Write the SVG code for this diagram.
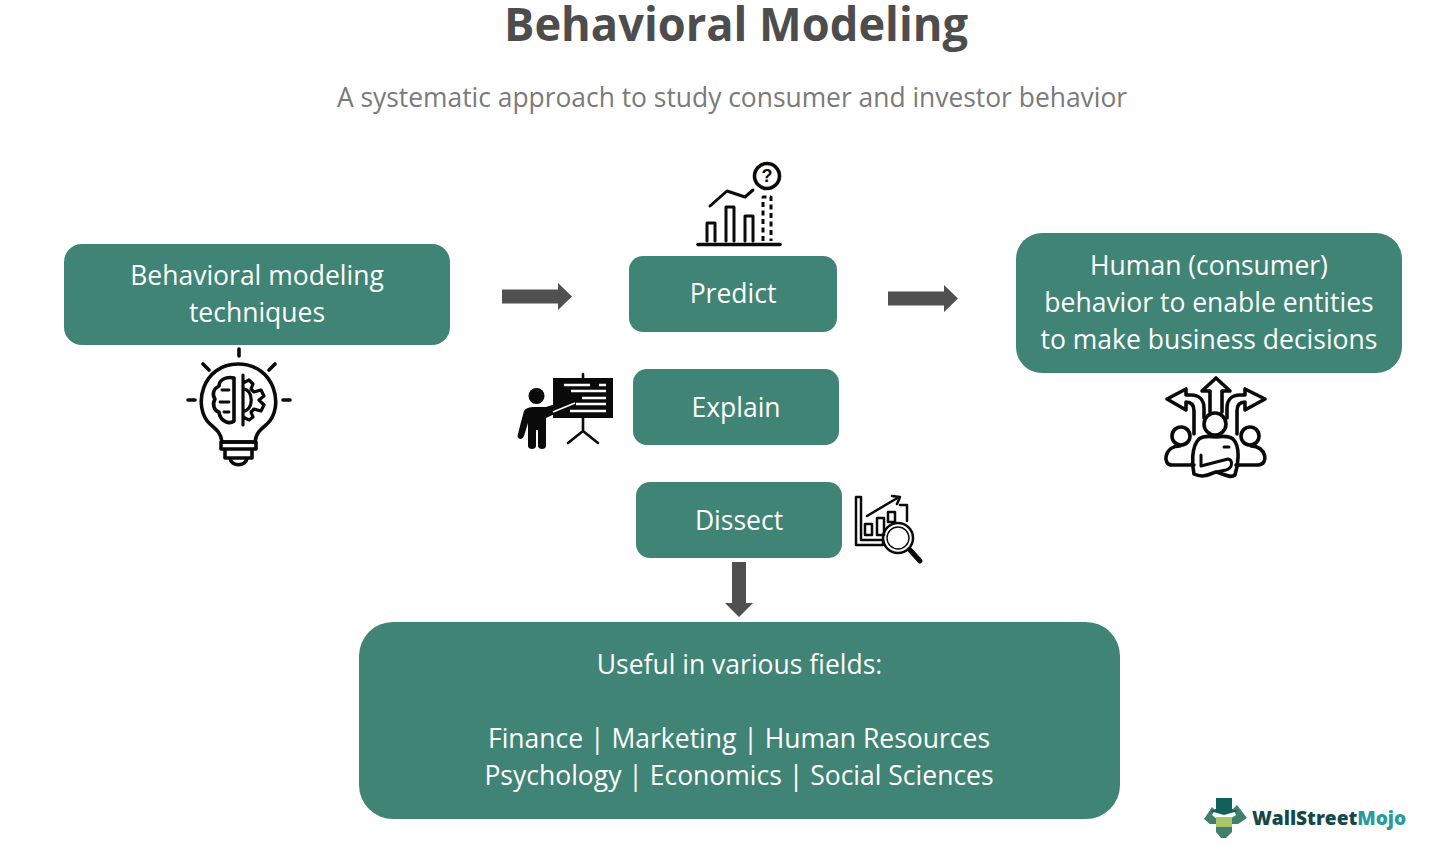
<svg xmlns="http://www.w3.org/2000/svg" width="1440" height="850" viewBox="0 0 1440 850">
<style>
.box{fill:#3f8474}
.t{font-family:"Open Sans","Noto Sans",sans-serif;font-size:26.5px;fill:#fff;text-anchor:middle}
.ic{fill:none;stroke:#0a0a0a;stroke-width:3.6;stroke-linecap:round;stroke-linejoin:round}
.ict{stroke-width:2.8}
.k{fill:#0a0a0a}
.a{fill:#505050}
</style>
<rect width="1440" height="850" fill="#fff"/>
<text x="736" y="41" font-family="'Open Sans','Noto Sans',sans-serif" font-size="46" font-weight="700" fill="#4d4d4d" text-anchor="middle" textLength="464" lengthAdjust="spacingAndGlyphs">Behavioral Modeling</text>
<text x="732" y="107" font-family="'Open Sans','Noto Sans',sans-serif" font-size="26.4" fill="#7a7a7a" text-anchor="middle">A systematic approach to study consumer and investor behavior</text>
<g id="connectors">
<path class="a" d="M502 289.500H558V283L572 296.500L558 310V303.500H502Z"/>
<path class="a" d="M888 291.500H944V285L958 298.500L944 312V305.500H888Z"/>
<path class="a" d="M732 562H746V603H753L739 617L725 603H732Z"/>
</g>
<g id="node-techniques"><rect class="box" x="64" y="244" width="386" height="101" rx="18"/>
<text class="t" x="257" y="285">Behavioral modeling</text><text class="t" x="257" y="322">techniques</text></g>
<g id="node-predict"><rect class="box" x="629" y="256" width="208" height="76" rx="14"/><text class="t" x="733" y="303">Predict</text></g>
<g id="node-explain"><rect class="box" x="633" y="369" width="206" height="76" rx="14"/><text class="t" x="736" y="417">Explain</text></g>
<g id="node-dissect"><rect class="box" x="636" y="482" width="206" height="76" rx="14"/><text class="t" x="739" y="530">Dissect</text></g>
<g id="node-human"><rect class="box" x="1016" y="233" width="386" height="140" rx="26"/>
<text class="t" x="1209" y="275">Human (consumer)</text><text class="t" x="1209" y="312">behavior to enable entities</text><text class="t" x="1209" y="349">to make business decisions</text></g>
<g id="node-fields"><rect class="box" x="359" y="622" width="761" height="197" rx="34"/>
<text class="t" x="739.500" y="674">Useful in various fields:</text>
<text class="t" x="739" y="748">Finance | Marketing | Human Resources</text>
<text class="t" x="739" y="785">Psychology | Economics | Social Sciences</text></g>
<g id="icon-bulb" class="ic">
<path d="M239 349V356M203 364L209 370M275 364L269 370M188 400H195M283 400H290"/>
<path d="M222 442C221 433 217 430 210 424C192 407 202 364 238 364C275 364 285 407 267 424C260 430 256 433 255 442Z"/>
<path d="M221 442H256V449H221ZM225 449H252V458H225ZM230 458C231 467 246 467 247 458"/>
<path d="M234 378C226 376 219 380 219 386C213 389 212 395 215 399C212 404 214 411 219 412C220 421 229 425 234 421Z"/>
<path class="ict" d="M222 390H229M220 402H229M224 412H229"/>
<path d="M243 375V425M243 383L249 380L253 384L251 389L254 392L261 390L264 396L259 400L264 405L261 411L254 409L251 412L253 417L249 420L243 417M243 389C254 389 254 411 243 411" style="stroke-width:3.2"/>
</g>
<g id="icon-predict" class="ic">
<path d="M698 244.500H780"/>
<path d="M707 241V223H715V241M726 241V207H734V241M745 241V216H753V241" style="stroke-width:3"/>
<path class="ict" d="M710 206L727 191L745 197L753 190" style="stroke-width:3"/>
<path d="M763 241V197H771V241" style="stroke-width:3" stroke-dasharray="5 3.500" stroke-linecap="butt"/>
<circle cx="767" cy="176" r="12.500"/>
<text x="767" y="182" font-family="'Liberation Sans',sans-serif" font-size="18" font-weight="700" fill="#0a0a0a" stroke="none" text-anchor="middle">?</text>
</g>
<g id="icon-explain">
<rect class="k" x="553" y="378" width="60" height="40"/>
<path d="M583 374V378M583 418V431M583 431L568 443M583 431L598 443" fill="none" stroke="#0a0a0a" stroke-width="2.600" stroke-linecap="round"/>
<path d="M564 385H590M599 385H606M571 391H606M582 398H606M576 404H606M570 411H606" stroke="#fff" stroke-width="2.600" fill="none"/>
<circle class="k" cx="536.500" cy="396" r="8"/>
<path class="k" d="M521 422L524 411C526 408 529 407 535 407H546L571 399C575 398 577 403 574 405L546 418V446C546 450 538 450 538 446V430H536V446C536 450 528 450 528 446V423L524 436C522 441 516 439 518 434Z"/>
<path d="M553 412L575 403" stroke="#fff" stroke-width="1.600" fill="none"/>
</g>
<g id="icon-dissect" class="ic" style="stroke-width:2.500">
<path d="M856 497H861V540H883V545H856Z"/>
<path d="M865 524H872V535H865ZM877 518H884V535H877ZM888 512H895V522H888ZM900 505H907V521"/>
<path d="M867 516L899 497M892 496L900 497L897 504"/>
<circle cx="898" cy="538" r="15"/><circle cx="898" cy="538" r="11" style="stroke-width:1.400"/>
<path d="M910 550L920 561" style="stroke-width:5"/>
</g>
<g id="icon-human" class="ic">
<circle cx="1215" cy="424" r="11"/>
<path d="M1210 412V391H1202L1216 378L1230 391H1222V412"/>
<path d="M1194 434V411C1194 405 1191 402 1186 402V410L1167 399L1186 389V395H1191C1199 395 1204 400 1204 408V418"/>
<path d="M1237 434V411C1237 405 1240 402 1245 402V410L1265 399L1245 389V395H1240C1232 395 1227 400 1227 408V418"/>
<circle cx="1181" cy="436" r="9"/><circle cx="1250" cy="436" r="9"/>
<path d="M1194 465H1172C1162 465 1164 446 1180 446M1236 465H1258C1269 465 1267 446 1251 446"/>
<path d="M1199 439C1191 447 1192 465 1194 474C1204 479 1211 473 1216 472C1222 473 1230 479 1235 475C1238 465 1241 447 1233 439C1229 436 1222 436 1216 437C1210 436 1203 436 1199 439Z"/>
<path class="ict" d="M1201 455V466L1228 459C1233 460 1233 468 1226 470L1216 472M1224 447H1229" style="stroke-width:3"/>
</g>
<g id="logo">
<path d="M1204 819L1212 807L1215 810L1212 815L1217 819H1230L1236 815L1233 809L1237 805L1247 818L1238 824L1232 824V832L1226 838H1221L1216 832V824L1210 824Z" fill="#3f7f6c"/>
<path d="M1216 798H1232V809L1238 811L1224 815L1210 811L1216 809Z" fill="#12605a"/>
<rect x="1216" y="817" width="16" height="10" fill="#a9c56a"/>
<text x="1252" y="825" font-family="'Open Sans','Noto Sans',sans-serif" font-size="19.100" font-weight="800"><tspan fill="#12494a">WallStreet</tspan><tspan fill="#2c9a9a">Mojo</tspan></text>
</g>
</svg>
